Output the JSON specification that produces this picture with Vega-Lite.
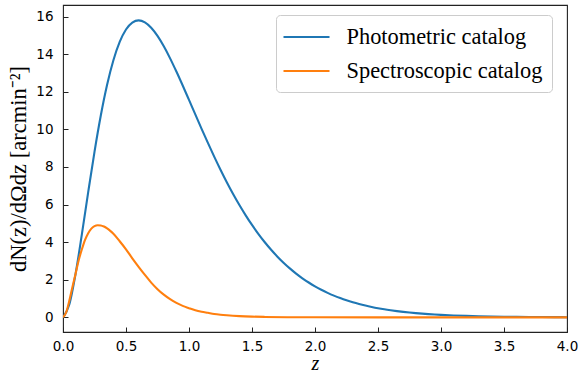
{
  "$schema": "https://vega.github.io/schema/vega-lite/v6.json",
  "width": 504,
  "height": 327,
  "autosize": {"type": "none"},
  "padding": {"left": 63, "top": 5, "right": 13, "bottom": 47},
  "background": "white",
  "config": {
    "view": {"stroke": "#222", "strokeWidth": 1.1},
    "axis": {
      "grid": false,
      "domain": false,
      "tickColor": "#222",
      "tickWidth": 1,
      "tickSize": -5,
      "labelFont": "DejaVu Sans",
      "labelFontSize": 13.5,
      "labelColor": "#000",
      "titleFont": "Liberation Serif",
      "titleFontWeight": "normal",
      "titleColor": "#000"
    }
  },
  "datasets": {
    "curves": [
      {"z": 0.0, "v": 0.0, "series": "Photometric catalog"},
      {"z": 0.05, "v": 0.686, "series": "Photometric catalog"},
      {"z": 0.1, "v": 2.324, "series": "Photometric catalog"},
      {"z": 0.15, "v": 4.426, "series": "Photometric catalog"},
      {"z": 0.2, "v": 6.66, "series": "Photometric catalog"},
      {"z": 0.25, "v": 8.809, "series": "Photometric catalog"},
      {"z": 0.3, "v": 10.737, "series": "Photometric catalog"},
      {"z": 0.35, "v": 12.371, "series": "Photometric catalog"},
      {"z": 0.4, "v": 13.678, "series": "Photometric catalog"},
      {"z": 0.45, "v": 14.653, "series": "Photometric catalog"},
      {"z": 0.5, "v": 15.314, "series": "Photometric catalog"},
      {"z": 0.55, "v": 15.684, "series": "Photometric catalog"},
      {"z": 0.6, "v": 15.8, "series": "Photometric catalog"},
      {"z": 0.65, "v": 15.697, "series": "Photometric catalog"},
      {"z": 0.7, "v": 15.41, "series": "Photometric catalog"},
      {"z": 0.75, "v": 14.974, "series": "Photometric catalog"},
      {"z": 0.8, "v": 14.421, "series": "Photometric catalog"},
      {"z": 0.85, "v": 13.781, "series": "Photometric catalog"},
      {"z": 0.9, "v": 13.078, "series": "Photometric catalog"},
      {"z": 0.95, "v": 12.335, "series": "Photometric catalog"},
      {"z": 1.0, "v": 11.569, "series": "Photometric catalog"},
      {"z": 1.05, "v": 10.797, "series": "Photometric catalog"},
      {"z": 1.1, "v": 10.03, "series": "Photometric catalog"},
      {"z": 1.15, "v": 9.28, "series": "Photometric catalog"},
      {"z": 1.2, "v": 8.553, "series": "Photometric catalog"},
      {"z": 1.25, "v": 7.856, "series": "Photometric catalog"},
      {"z": 1.3, "v": 7.193, "series": "Photometric catalog"},
      {"z": 1.35, "v": 6.566, "series": "Photometric catalog"},
      {"z": 1.4, "v": 5.977, "series": "Photometric catalog"},
      {"z": 1.45, "v": 5.428, "series": "Photometric catalog"},
      {"z": 1.5, "v": 4.916, "series": "Photometric catalog"},
      {"z": 1.55, "v": 4.444, "series": "Photometric catalog"},
      {"z": 1.6, "v": 4.008, "series": "Photometric catalog"},
      {"z": 1.65, "v": 3.608, "series": "Photometric catalog"},
      {"z": 1.7, "v": 3.242, "series": "Photometric catalog"},
      {"z": 1.75, "v": 2.908, "series": "Photometric catalog"},
      {"z": 1.8, "v": 2.605, "series": "Photometric catalog"},
      {"z": 1.85, "v": 2.329, "series": "Photometric catalog"},
      {"z": 1.9, "v": 2.079, "series": "Photometric catalog"},
      {"z": 1.95, "v": 1.854, "series": "Photometric catalog"},
      {"z": 2.0, "v": 1.651, "series": "Photometric catalog"},
      {"z": 2.05, "v": 1.468, "series": "Photometric catalog"},
      {"z": 2.1, "v": 1.304, "series": "Photometric catalog"},
      {"z": 2.15, "v": 1.157, "series": "Photometric catalog"},
      {"z": 2.2, "v": 1.026, "series": "Photometric catalog"},
      {"z": 2.25, "v": 0.908, "series": "Photometric catalog"},
      {"z": 2.3, "v": 0.803, "series": "Photometric catalog"},
      {"z": 2.35, "v": 0.71, "series": "Photometric catalog"},
      {"z": 2.4, "v": 0.627, "series": "Photometric catalog"},
      {"z": 2.45, "v": 0.553, "series": "Photometric catalog"},
      {"z": 2.5, "v": 0.487, "series": "Photometric catalog"},
      {"z": 2.55, "v": 0.429, "series": "Photometric catalog"},
      {"z": 2.6, "v": 0.378, "series": "Photometric catalog"},
      {"z": 2.65, "v": 0.332, "series": "Photometric catalog"},
      {"z": 2.7, "v": 0.292, "series": "Photometric catalog"},
      {"z": 2.75, "v": 0.256, "series": "Photometric catalog"},
      {"z": 2.8, "v": 0.225, "series": "Photometric catalog"},
      {"z": 2.85, "v": 0.197, "series": "Photometric catalog"},
      {"z": 2.9, "v": 0.173, "series": "Photometric catalog"},
      {"z": 2.95, "v": 0.151, "series": "Photometric catalog"},
      {"z": 3.0, "v": 0.1325, "series": "Photometric catalog"},
      {"z": 3.1, "v": 0.1014, "series": "Photometric catalog"},
      {"z": 3.2, "v": 0.0774, "series": "Photometric catalog"},
      {"z": 3.3, "v": 0.059, "series": "Photometric catalog"},
      {"z": 3.4, "v": 0.0449, "series": "Photometric catalog"},
      {"z": 3.5, "v": 0.0341, "series": "Photometric catalog"},
      {"z": 3.6, "v": 0.0258, "series": "Photometric catalog"},
      {"z": 3.7, "v": 0.0195, "series": "Photometric catalog"},
      {"z": 3.8, "v": 0.0148, "series": "Photometric catalog"},
      {"z": 3.9, "v": 0.0111, "series": "Photometric catalog"},
      {"z": 4.0, "v": 0.0084, "series": "Photometric catalog"},
      {"z": 0.0, "v": 0.0, "series": "Spectroscopic catalog"},
      {"z": 0.025, "v": 0.26, "series": "Spectroscopic catalog"},
      {"z": 0.05, "v": 0.88, "series": "Spectroscopic catalog"},
      {"z": 0.075, "v": 1.62, "series": "Spectroscopic catalog"},
      {"z": 0.1, "v": 2.32, "series": "Spectroscopic catalog"},
      {"z": 0.125, "v": 3.05, "series": "Spectroscopic catalog"},
      {"z": 0.15, "v": 3.62, "series": "Spectroscopic catalog"},
      {"z": 0.175, "v": 4.12, "series": "Spectroscopic catalog"},
      {"z": 0.2, "v": 4.48, "series": "Spectroscopic catalog"},
      {"z": 0.225, "v": 4.72, "series": "Spectroscopic catalog"},
      {"z": 0.25, "v": 4.85, "series": "Spectroscopic catalog"},
      {"z": 0.275, "v": 4.9, "series": "Spectroscopic catalog"},
      {"z": 0.3, "v": 4.89, "series": "Spectroscopic catalog"},
      {"z": 0.325, "v": 4.83, "series": "Spectroscopic catalog"},
      {"z": 0.35, "v": 4.73, "series": "Spectroscopic catalog"},
      {"z": 0.375, "v": 4.6, "series": "Spectroscopic catalog"},
      {"z": 0.4, "v": 4.45, "series": "Spectroscopic catalog"},
      {"z": 0.45, "v": 4.05, "series": "Spectroscopic catalog"},
      {"z": 0.5, "v": 3.62, "series": "Spectroscopic catalog"},
      {"z": 0.55, "v": 3.14, "series": "Spectroscopic catalog"},
      {"z": 0.6, "v": 2.69, "series": "Spectroscopic catalog"},
      {"z": 0.65, "v": 2.26, "series": "Spectroscopic catalog"},
      {"z": 0.7, "v": 1.85, "series": "Spectroscopic catalog"},
      {"z": 0.75, "v": 1.5, "series": "Spectroscopic catalog"},
      {"z": 0.8, "v": 1.21, "series": "Spectroscopic catalog"},
      {"z": 0.85, "v": 0.97, "series": "Spectroscopic catalog"},
      {"z": 0.9, "v": 0.77, "series": "Spectroscopic catalog"},
      {"z": 0.95, "v": 0.61, "series": "Spectroscopic catalog"},
      {"z": 1.0, "v": 0.49, "series": "Spectroscopic catalog"},
      {"z": 1.05, "v": 0.38, "series": "Spectroscopic catalog"},
      {"z": 1.1, "v": 0.3, "series": "Spectroscopic catalog"},
      {"z": 1.15, "v": 0.24, "series": "Spectroscopic catalog"},
      {"z": 1.2, "v": 0.18, "series": "Spectroscopic catalog"},
      {"z": 1.25, "v": 0.14, "series": "Spectroscopic catalog"},
      {"z": 1.3, "v": 0.11, "series": "Spectroscopic catalog"},
      {"z": 1.4, "v": 0.065, "series": "Spectroscopic catalog"},
      {"z": 1.5, "v": 0.038, "series": "Spectroscopic catalog"},
      {"z": 1.6, "v": 0.022, "series": "Spectroscopic catalog"},
      {"z": 1.8, "v": 0.007, "series": "Spectroscopic catalog"},
      {"z": 2.0, "v": 0.002, "series": "Spectroscopic catalog"},
      {"z": 2.5, "v": 0.0, "series": "Spectroscopic catalog"},
      {"z": 3.0, "v": 0.0, "series": "Spectroscopic catalog"},
      {"z": 3.5, "v": 0.0, "series": "Spectroscopic catalog"},
      {"z": 4.0, "v": 0.0, "series": "Spectroscopic catalog"}
    ]
  },
  "layer": [
    {
      "data": {"name": "curves"},
      "mark": {"type": "line", "strokeWidth": 2.1, "clip": true, "interpolate": "monotone"},
      "encoding": {
        "x": {
          "field": "z",
          "type": "quantitative",
          "scale": {"domain": [0, 4], "nice": false, "zero": false},
          "axis": {
            "values": [0, 0.5, 1, 1.5, 2, 2.5, 3, 3.5, 4],
            "format": ".1f",
            "labelFlush": false,
            "title": "z",
            "titleFontSize": 20,
            "titleFontStyle": "italic",
            "titlePadding": 1,
            "labelPadding": 12
          }
        },
        "y": {
          "field": "v",
          "type": "quantitative",
          "scale": {"domain": [-0.78, 16.62], "nice": false, "zero": false},
          "axis": {
            "values": [0, 2, 4, 6, 8, 10, 12, 14, 16],
            "labelFlush": false,
            "title": "dN(z)/dΩdz [arcmin⁻²]",
            "titleFontSize": 22.5,
            "titlePadding": 5,
            "labelPadding": 15
          }
        },
        "color": {
          "field": "series",
          "type": "nominal",
          "scale": {
            "domain": ["Photometric catalog", "Spectroscopic catalog"],
            "range": ["#1f77b4", "#ff7f0e"]
          },
          "legend": {
            "title": null,
            "orient": "none",
            "legendX": 213,
            "legendY": 10,
            "symbolType": "M-2,0H2",
            "symbolSize": 529,
            "symbolStrokeWidth": 2.1,
            "symbolOffset": 8.5,
            "labelFont": "Liberation Serif",
            "labelFontSize": 22.4,
            "labelColor": "#000",
            "labelLimit": 400,
            "labelOffset": 27,
            "rowPadding": 9,
            "padding": 9,
            "strokeColor": "#cccccc",
            "fillColor": "white",
            "cornerRadius": 4
          }
        }
      }
    },
    {
      "mark": {"type": "rule", "color": "#444", "strokeWidth": 0.8, "strokeDash": [3, 2]},
      "encoding": {"x": {"datum": 0.1}}
    }
  ]
}
